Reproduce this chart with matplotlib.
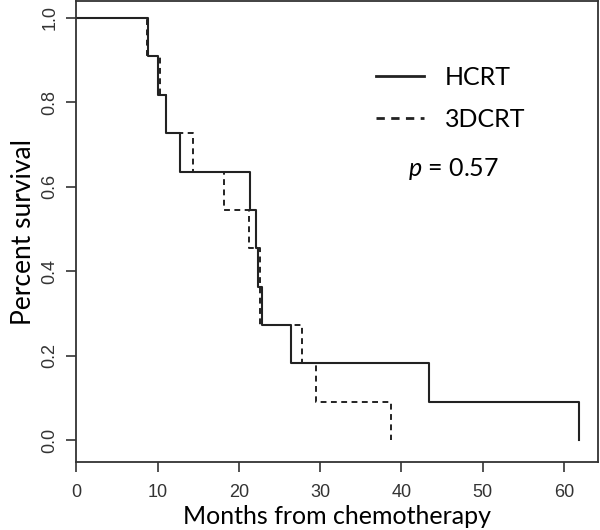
import matplotlib as mpl
mpl.use('Agg')
import matplotlib.pyplot as plt

# survival curves (months, fraction surviving)
hcrt_months = [0, 8.8, 10.0, 11.1, 12.8, 21.4, 22.1, 22.3, 22.9, 26.4, 43.4, 61.9]
hcrt_surv = [1.0, 0.909, 0.818, 0.727, 0.636, 0.545, 0.455, 0.364, 0.273, 0.182, 0.091, 0.0]
dcrt_months = [0, 8.7, 10.3, 11.1, 14.4, 18.2, 21.3, 22.6, 27.8, 29.5, 38.7]
dcrt_surv = [1.0, 0.909, 0.818, 0.727, 0.636, 0.545, 0.455, 0.273, 0.182, 0.091, 0.0]

x_ticks = [0, 10, 20, 30, 40, 50, 60]
y_ticks = [0.0, 0.2, 0.4, 0.6, 0.8, 1.0]

mpl.rcParams['mathtext.fontset'] = 'custom'
mpl.rcParams['mathtext.it'] = 'Lato:italic'
mpl.rcParams['mathtext.rm'] = 'Lato'

fig = plt.figure(figsize=(6, 5.3), dpi=100)
ax = fig.add_axes([0.127, 0.128, 0.87, 0.87])

line_col = '#222222'
ax.step(hcrt_months, hcrt_surv, where='post', color=line_col, lw=1.5, label='HCRT')
ax.step(dcrt_months, dcrt_surv, where='post', color=line_col, lw=1.4,
        linestyle=(0, (3, 2.3)), label='3DCRT')

ax.set_xlim(0, 64.2)
ax.set_ylim(-0.052, 1.04)
ax.set_xticks(x_ticks)
ax.set_yticks(y_ticks)
ax.set_xticklabels([str(t) for t in x_ticks], family='Liberation Sans', fontsize=13, color='#333333')
ax.set_yticklabels(['%.1f' % t for t in y_ticks], family='Liberation Sans', fontsize=13,
                   rotation=90, va='center', color='#333333')
ax.tick_params(direction='out', length=7, width=1.2, color='#333333')
ax.tick_params(axis='x', pad=9)
ax.tick_params(axis='y', pad=6)

for s in ax.spines.values():
    s.set_linewidth(1.3)
    s.set_color('#333333')

ax.set_xlabel('Months from chemotherapy', family='Lato', fontsize=18)
ax.xaxis.set_label_coords(0.5, -0.135)
ax.xaxis.label.set_va('baseline')
ax.set_ylabel('Percent survival', family='Lato', fontsize=19, labelpad=4)

leg = ax.legend(loc='upper left', bbox_to_anchor=(0.532, 0.908), frameon=False,
                prop={'family': 'Lato', 'size': 18}, handlelength=1.9,
                handletextpad=0.85, labelspacing=0.75)
for h in leg.get_lines():
    h.set_linewidth(2)

ax.text(0.636, 0.621, '$\\it{p}$ = 0.57', transform=ax.transAxes, family='Lato', fontsize=18)

fig.savefig('out.png', dpi=100)
